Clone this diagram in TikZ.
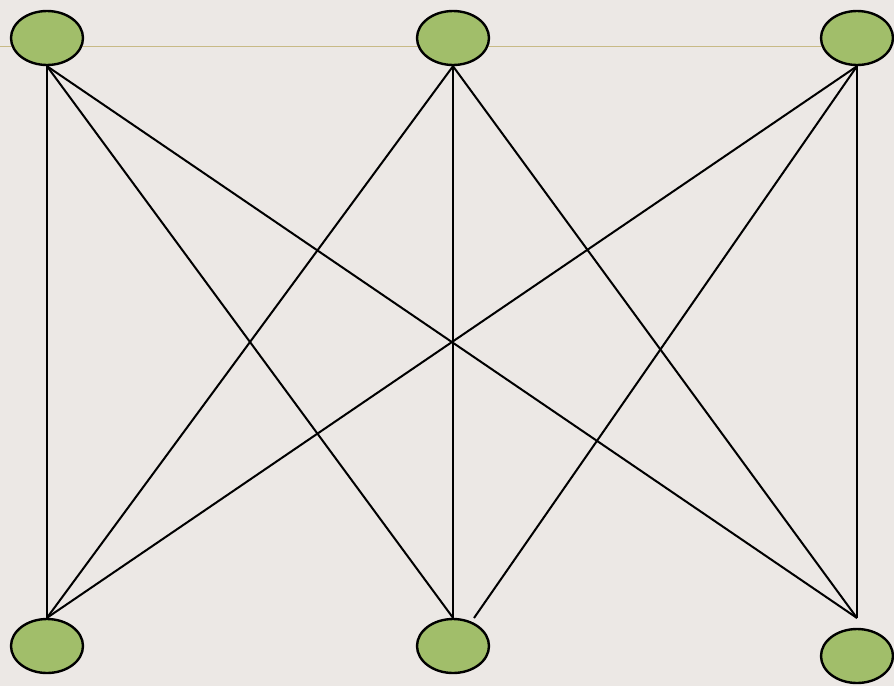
\documentclass[tikz,border=0pt]{standalone}
\usetikzlibrary{shapes.geometric}
\definecolor{bgc}{RGB}{236,232,229}
\definecolor{vgreen}{RGB}{161,190,106}
\definecolor{tanline}{RGB}{200,186,134}
\begin{document}
\begin{tikzpicture}[x=1pt,y=-1pt,
  vertex/.style={ellipse, draw=black, line width=2.4pt, fill=vgreen, minimum width=72pt, minimum height=54pt, inner sep=0pt},
  edge/.style={draw=black, line width=2pt}]
\useasboundingbox[fill=bgc] (0,0) rectangle (894,686);
\draw[tanline, line width=1.8pt] (0,46.5) -- (857,46.5);
\node[vertex] (t1) at (47,38) {};
\node[vertex] (t2) at (453,38) {};
\node[vertex] (t3) at (857,38) {};
\node[vertex] (b1) at (47,646) {};
\node[vertex] (b2) at (453,646) {};
\node[vertex] (b3) at (857,656) {};
\coordinate (p3) at (857,618);
\coordinate (q2) at (474,618);
\draw[edge] (t1.south) -- (b1.north);
\draw[edge] (t1.south) -- (b2.north);
\draw[edge] (t1.south) -- (p3);
\draw[edge] (t2.south) -- (b1.north);
\draw[edge] (t2.south) -- (b2.north);
\draw[edge] (t2.south) -- (p3);
\draw[edge] (t3.south) -- (b1.north);
\draw[edge] (t3.south) -- (q2);
\draw[edge] (t3.south) -- (p3);
\end{tikzpicture}
\end{document}
